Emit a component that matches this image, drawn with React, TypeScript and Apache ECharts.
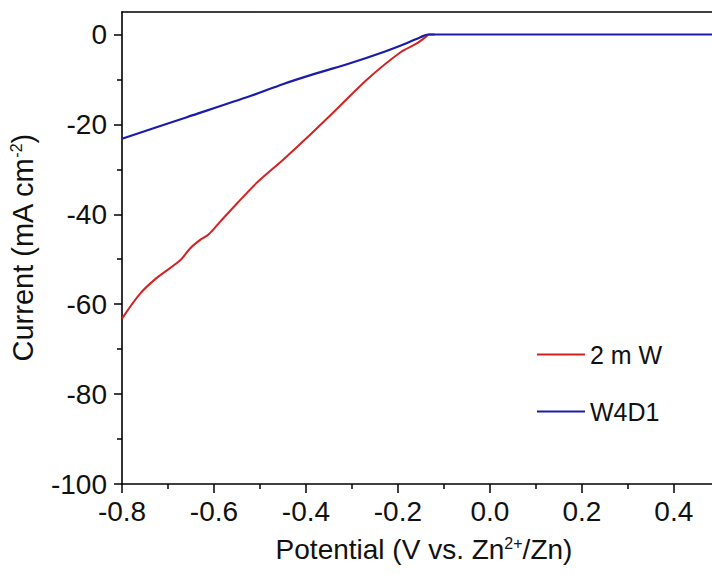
import React, { useEffect, useRef } from "react";
import * as echarts from "echarts";

// Potential (V vs. Zn2+/Zn) and current (mA cm-2)
const redPotential = [-0.8, -0.761, -0.725, -0.674, -0.652, -0.63, -0.612, -0.587, -0.551, -0.507, -0.449, -0.391, -0.34, -0.267, -0.195, -0.159, -0.14, -0.132, -0.12];
const redCurrent = [-63.2, -57.7, -54.2, -50.3, -47.6, -45.7, -44.5, -41.7, -37.7, -33.0, -27.8, -22.3, -17.3, -10.0, -4.0, -2.0, -0.6, 0, 0];

const bluePotential = [-0.8, -0.659, -0.521, -0.449, -0.376, -0.304, -0.231, -0.18, -0.151, -0.134, -0.12, 0.483];
const blueCurrent = [-23.2, -18.4, -13.7, -11.0, -8.6, -6.4, -3.9, -1.9, -0.6, 0, 0, 0];

const seriesNames = ["2 m W", "W4D1"];
const xTicks = [-0.8, -0.6, -0.4, -0.2, 0.0, 0.2, 0.4];
const yTicks = [-100, -80, -60, -40, -20, 0];

const FONT = "'Liberation Sans', Arial, sans-serif";

export default function App() {
  const ref = useRef<HTMLDivElement>(null);
  useEffect(() => {
    document.body.style.margin = "0";
    const chart = echarts.init(ref.current!, null, { renderer: "svg" });
    const toPairs = (xs: number[], ys: number[]) => xs.map((x, i) => [x, ys[i]]);
    const axisLine = { show: true, onZero: false, lineStyle: { color: "#000", width: 1.6 } };
    const option: any = {
      animation: false,
      backgroundColor: "#fff",
      grid: { left: 122, right: 0, top: 12, bottom: 91, containLabel: false },
      legend: {
        data: seriesNames,
        orient: "vertical",
        left: 532,
        top: 337,
        icon: "rect",
        itemWidth: 48,
        itemHeight: 2,
        itemGap: 32,
        textStyle: { fontSize: 25, color: "#111", fontFamily: FONT },
      },
      xAxis: [
        {
          type: "value",
          min: -0.8,
          max: 0.483,
          interval: 0.2,
          axisLine,
          axisTick: { show: true, inside: false, length: 9, lineStyle: { color: "#000", width: 1.5 }, customValues: xTicks },
          minorTick: { show: true, splitNumber: 2, length: 5, lineStyle: { color: "#000", width: 1.5 } },
          axisLabel: {
            customValues: xTicks,
            margin: 13,
            fontSize: 28,
            color: "#111",
            fontFamily: FONT,
            formatter: (v: number) => v.toFixed(1),
          },
          splitLine: { show: false },
          name: "Potential (V vs. Zn{sup|2+}/Zn)",
          nameLocation: "middle",
          nameGap: 51,
          nameTextStyle: {
            fontSize: 28,
            color: "#111",
            fontFamily: FONT,
            padding: [0, 0, 0, 14],
            rich: { sup: { fontSize: 16, verticalAlign: "top", color: "#111", fontFamily: FONT } },
          },
        },
        {
          type: "value",
          position: "top",
          min: -0.8,
          max: 0.483,
          axisLine,
          axisTick: { show: false },
          axisLabel: { show: false },
          splitLine: { show: false },
        },
      ],
      yAxis: {
        type: "value",
        min: -100,
        max: 5,
        interval: 20,
        axisLine,
        axisTick: { show: true, inside: false, length: 8, lineStyle: { color: "#000", width: 1.5 }, customValues: yTicks },
        minorTick: { show: true, splitNumber: 2, length: 5, lineStyle: { color: "#000", width: 1.5 } },
        axisLabel: { customValues: yTicks, margin: 15, fontSize: 28, color: "#111", fontFamily: FONT },
        splitLine: { show: false },
        name: "Current (mA cm{sup|-2})",
        nameLocation: "middle",
        nameRotate: 90,
        nameGap: 85,
        nameTextStyle: {
          fontSize: 29,
          color: "#111",
          fontFamily: FONT,
          rich: { sup: { fontSize: 16, verticalAlign: "top", color: "#111", fontFamily: FONT } },
        },
      },
      series: [
        {
          name: seriesNames[0],
          type: "line",
          data: toPairs(redPotential, redCurrent),
          showSymbol: false,
          symbol: "none",
          smooth: 0.3,
          lineStyle: { color: "#d42222", width: 2 },
          itemStyle: { color: "#d42222" },
          z: 2,
        },
        {
          name: seriesNames[1],
          type: "line",
          data: toPairs(bluePotential, blueCurrent),
          showSymbol: false,
          symbol: "none",
          smooth: 0.3,
          lineStyle: { color: "#1c1caa", width: 2.2 },
          itemStyle: { color: "#1c1caa" },
          z: 3,
        },
      ],
    };
    chart.setOption(option);
    return () => chart.dispose();
  }, []);
  return <div ref={ref} style={{ width: 712, height: 575 }} />;
}
